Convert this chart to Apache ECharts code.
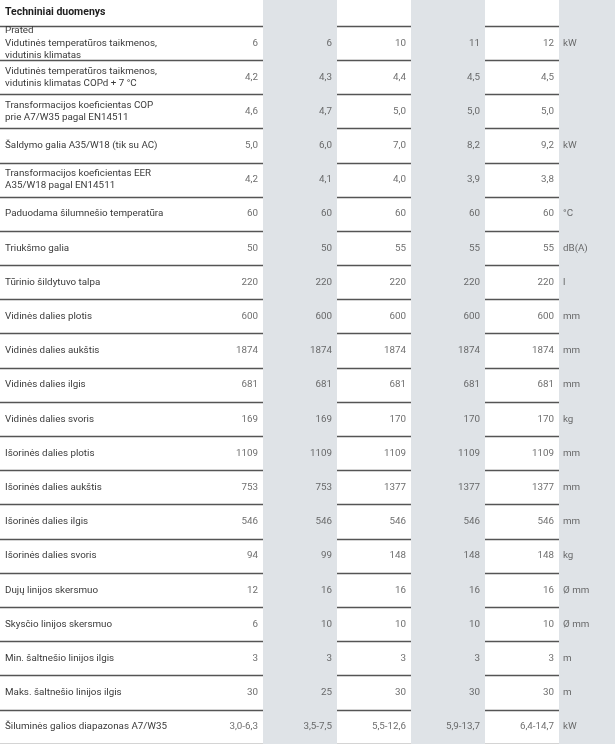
<!DOCTYPE html>
<html><head><meta charset="utf-8">
<script src="https://cdn.jsdelivr.net/npm/echarts@6/dist/echarts.min.js"></script>
<style>html,body{margin:0;padding:0;background:#fff}#c{width:615px;height:744px}</style>
</head><body><div id="c"></div>
<script>
const title = 'Techniniai duomenys';
const rowLabels = [
  'Prated\nVidutinės temperatūros taikmenos,\nvidutinis klimatas',
  'Vidutinės temperatūros taikmenos,\nvidutinis klimatas COPd + 7 °C',
  'Transformacijos koeficientas COP\nprie A7/W35 pagal EN14511',
  'Šaldymo galia A35/W18 (tik su AC)',
  'Transformacijos koeficientas EER\nA35/W18 pagal EN14511',
  'Paduodama šilumnešio temperatūra',
  'Triukšmo galia',
  'Tūrinio šildytuvo talpa',
  'Vidinės dalies plotis',
  'Vidinės dalies aukštis',
  'Vidinės dalies ilgis',
  'Vidinės dalies svoris',
  'Išorinės dalies plotis',
  'Išorinės dalies aukštis',
  'Išorinės dalies ilgis',
  'Išorinės dalies svoris',
  'Dujų linijos skersmuo',
  'Skysčio linijos skersmuo',
  'Min. šaltnešio linijos ilgis',
  'Maks. šaltnešio linijos ilgis',
  'Šiluminės galios diapazonas A7/W35'
];
const model1 = ['6','4,2','4,6','5,0','4,2','60','50','220','600','1874','681','169','1109','753','546','94','12','6','3','30','3,0-6,3'];
const model2 = ['6','4,3','4,7','6,0','4,1','60','50','220','600','1874','681','169','1109','753','546','99','16','10','3','25','3,5-7,5'];
const model3 = ['10','4,4','5,0','7,0','4,0','60','55','220','600','1874','681','170','1109','1377','546','148','16','10','3','30','5,5-12,6'];
const model4 = ['11','4,5','5,0','8,2','3,9','60','55','220','600','1874','681','170','1109','1377','546','148','16','10','3','30','5,9-13,7'];
const model5 = ['12','4,5','5,0','9,2','3,8','60','55','220','600','1874','681','170','1109','1377','546','148','16','10','3','30','6,4-14,7'];
const units = ['kW','','','kW','','°C','dB(A)','l','mm','mm','mm','kg','mm','mm','mm','kg','Ø mm','Ø mm','m','m','kW'];
const models = [model1, model2, model3, model4, model5];
const shadedCols = [1, 3, 5];

const FONT = 'Roboto, "Liberation Sans", sans-serif';
const X_MIN = -189 / 74, X_MAX = (615 - 189) / 74;

const valueData = [];
models.forEach((m, ci) => m.forEach((v, ri) => valueData.push({ value: [ci + 1, ri], label: { formatter: v } })));
const unitData = units.map((u, ri) => ({ value: [models.length, ri], label: { formatter: u } }));
const shadeAreas = shadedCols.map(c => [{ xAxis: c }, { xAxis: c + 1 }]);

const chart = echarts.init(document.getElementById('c'), null, { renderer: 'canvas' });
chart.setOption({
  animation: false,
  backgroundColor: '#fff',
  title: { text: title, left: 5, top: 7, padding: 0, textStyle: { fontSize: 10.5, fontWeight: 'bold', color: '#1e1e1e', fontFamily: FONT } },
  grid: [
    { left: 0, right: 0, top: 0, height: 26 },
    { left: 0, right: 0, top: 26, height: 722.4 }
  ],
  xAxis: [
    { type: 'value', gridIndex: 0, min: X_MIN, max: X_MAX, show: false },
    { type: 'value', gridIndex: 1, min: X_MIN, max: X_MAX, show: false }
  ],
  yAxis: [
    { type: 'category', gridIndex: 0, data: [''], show: false },
    { type: 'category', gridIndex: 1, data: rowLabels, inverse: true,
      axisLine: { show: false }, axisTick: { show: false },
      splitLine: { show: true, lineStyle: { color: '#555', width: 1.4 } },
      axisLabel: { inside: true, margin: 5, interval: 0, fontSize: 9.8, lineHeight: 12.3, color: '#3a3a3a', fontFamily: FONT }
    }
  ],
  series: [
    { type: 'scatter', xAxisIndex: 0, yAxisIndex: 0, data: [], silent: true,
      markArea: { silent: true, itemStyle: { color: '#dfe3e7' }, data: shadeAreas } },
    { type: 'scatter', xAxisIndex: 1, yAxisIndex: 1, symbolSize: 0, silent: true, z: 3,
      markArea: { silent: true, itemStyle: { color: '#dfe3e7' }, data: shadeAreas },
      label: { show: true, position: 'left', distance: 5, fontSize: 9.8, color: '#4a4a4a', fontFamily: FONT },
      data: valueData },
    { type: 'scatter', xAxisIndex: 1, yAxisIndex: 1, symbolSize: 0, silent: true, z: 3,
      label: { show: true, position: 'right', distance: 4, fontSize: 9.8, color: '#4a4a4a', fontFamily: FONT },
      data: unitData }
  ]
});
</script></body></html>
